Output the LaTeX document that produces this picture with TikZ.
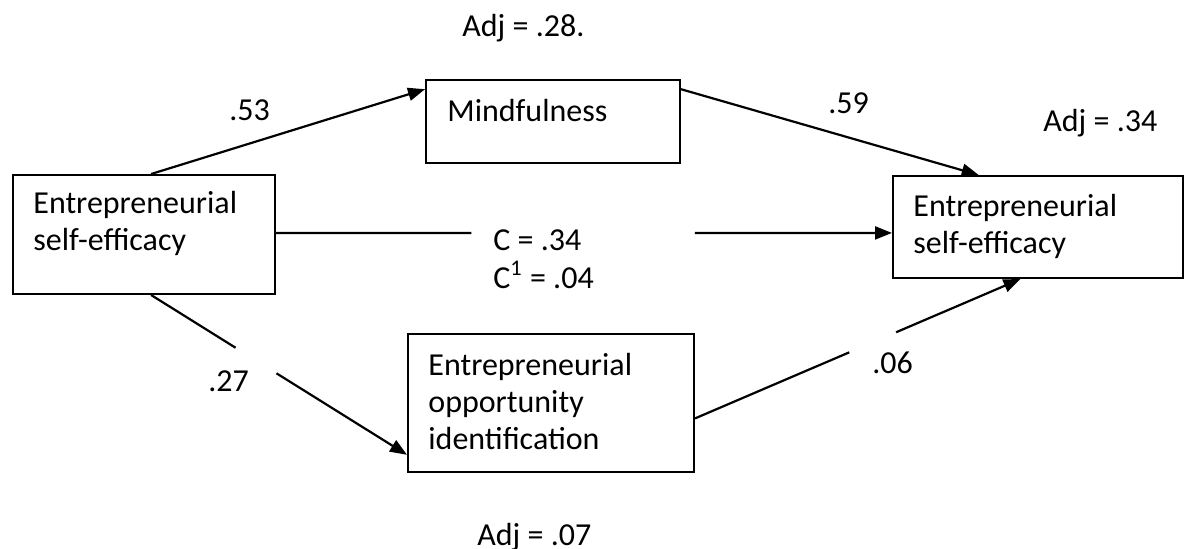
\documentclass[tikz,border=0pt]{standalone}
\usepackage{fontspec}
\setmainfont{Carlito}
\usetikzlibrary{arrows.meta,positioning,calc}

\begin{document}
\begin{tikzpicture}[x=0.5pt,y=-0.5pt,
  font=\fontsize{16}{18.5}\selectfont,
  box/.style={draw, line width=1pt, inner sep=0pt, anchor=north west},
  txt/.style={inner sep=0pt, anchor=base west, align=left},
  link/.style={line width=1.1pt},
  arr/.style={link, -{Triangle[length=8.5pt,width=6.5pt]}}]
\useasboundingbox (0,0) rectangle (1185,548);

% boxes
\node[box, minimum width=131pt, minimum height=59.5pt] (esl) at (12,174) {};
\node[box, minimum width=127pt, minimum height=41.5pt] (mind) at (425,79) {};
\node[box, minimum width=145pt, minimum height=51pt] (esr) at (892,175) {};
\node[box, minimum width=143pt, minimum height=69pt] (eoi) at (407,333) {};

% box texts (base = last line)
\node[txt] (esltxt) at (33,250) {Entrepreneurial\\self-efficacy};
\node[txt] (mindtxt) at (447,121) {Mindfulness};
\node[txt] (esrtxt) at (913,253) {Entrepreneurial\\self-efficacy};
\node[txt] (eoitxt) at (428,449) {Entrepreneurial\\opportunity\\identification};

% paths
\draw[arr] ($(esl.north west)!.527!(esl.north east)$) -- ($(mind.north west)!.12!(mind.south west)$);
\draw[arr] ($(mind.north east)!.12!(mind.south east)$) -- ($(esr.north west)!.297!(esr.north east)$);

\coordinate (cS) at ($(esl.north east)!.487!(esl.south east)$);
\coordinate (cE) at (esr.west |- cS);
\draw[link] (cS) -- ($(cS)!.317!(cE)$);
\draw[arr] ($(cS)!.68!(cE)$) -- (cE);

\coordinate (aS) at ($(esl.south west)!.527!(esl.south east)$);
\coordinate (aE) at ($(eoi.north west)!.87!(eoi.south west)$);
\draw[link] (aS) -- ($(aS)!.33!(aE)$);
\draw[arr] ($(aS)!.49!(aE)$) -- (aE);

\coordinate (bS) at ($(eoi.north east)!.61!(eoi.south east)$);
\coordinate (bE) at ($(esr.south west)!.44!(esr.south east)$);
\draw[link] (bS) -- ($(bS)!.474!(bE)$);
\draw[arr] ($(bS)!.618!(bE)$) -- (bE);

% coefficients
\node[txt] (adjm) at (462,36) {Adj = .28.};
\node[txt] (c53) at (229,120) {.53};
\node[txt] (c59) at (828,113) {.59};
\node[txt] (adjr) at (1043,131) {Adj = .34};
\node[txt] (cdir) at (493,250) {C = .34};
\node[txt] (cind) at (493,288) {C\textsuperscript{1} = .04};
\node[txt] (c27) at (208,391) {.27};
\node[txt] (c06) at (872,373) {.06};
\node[txt] (adjb) at (477,545) {Adj = .07};
\end{tikzpicture}
\end{document}
